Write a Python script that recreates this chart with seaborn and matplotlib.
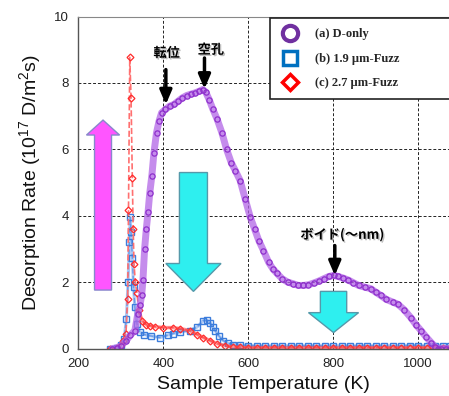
import numpy as np
import pandas as pd
import matplotlib
matplotlib.use("Agg")
import matplotlib.pyplot as plt
import matplotlib.patheffects as pe
from matplotlib.patches import FancyArrow
from matplotlib.lines import Line2D
import seaborn as sns

# values
d_temp = [280, 290, 300, 313, 322, 333, 340, 345, 349, 352,
          356, 360, 364, 368, 373, 378, 384, 390, 396, 405,
          415, 425, 435, 445, 455, 465, 475, 485, 493, 500,
          508, 517, 527, 538, 549, 560, 570, 581, 593, 605,
          615, 625, 636, 648, 658, 668, 680, 693, 706, 718,
          730, 742, 754, 766, 778, 790, 801, 812, 824, 836,
          848, 860, 874, 889, 900, 912, 925, 940, 953, 967,
          983, 995, 1007, 1019, 1031, 1040, 1047, 1055, 1065, 1075]
d_rate = [0.0, 0.02, 0.08, 0.24, 0.4, 0.54, 1.05, 1.3, 1.6, 2.05,
          3.0, 3.6, 4.1, 4.67, 5.2, 5.9, 6.5, 6.85, 7.1, 7.2,
          7.3, 7.35, 7.45, 7.55, 7.62, 7.66, 7.7, 7.75, 7.8, 7.72,
          7.5, 7.2, 6.9, 6.5, 6.0, 5.6, 5.35, 5.06, 4.5, 3.95,
          3.6, 3.25, 2.95, 2.6, 2.4, 2.26, 2.1, 2.0, 1.95, 1.9,
          1.9, 1.92, 1.97, 2.03, 2.1, 2.17, 2.2, 2.17, 2.12, 2.06,
          1.98, 1.9, 1.85, 1.8, 1.7, 1.6, 1.48, 1.4, 1.33, 1.17,
          0.93, 0.72, 0.54, 0.35, 0.18, 0.06, 0.0, 0.0, 0.0, 0.0]

b_temp = [275, 290, 300, 308, 313, 317, 320, 322, 324, 327,
          330, 333, 338, 344, 355, 370, 392, 410, 423, 440,
          463, 480, 494, 503, 510, 516, 522, 531, 541, 552,
          565, 580, 600, 620, 640, 660, 680, 700, 720, 740,
          760, 780, 800, 820, 840, 860, 880, 900, 920, 940,
          960, 980, 1000, 1020, 1040, 1060, 1075]
b_rate = [0.0, 0.02, 0.1, 0.3, 0.9, 2.0, 3.2, 3.95, 3.5, 2.74,
          1.84, 1.24, 0.75, 0.5, 0.42, 0.38, 0.33, 0.4, 0.45, 0.5,
          0.54, 0.65, 0.84, 0.85, 0.78, 0.65, 0.54, 0.38, 0.24, 0.16,
          0.12, 0.1, 0.09, 0.08, 0.08, 0.08, 0.08, 0.08, 0.08, 0.08,
          0.08, 0.08, 0.08, 0.08, 0.08, 0.08, 0.08, 0.08, 0.08, 0.08,
          0.08, 0.09, 0.09, 0.08, 0.08, 0.08, 0.07]

r_temp = [275, 290, 300, 304, 312, 316, 318, 321, 324, 327,
          329, 331, 334, 338, 342, 350, 360, 368, 380, 400,
          423, 440, 463, 480, 494, 510, 526, 545, 565, 580,
          600, 620, 640, 660, 680, 700, 720, 740, 760, 780,
          800, 820, 840, 860, 880, 900, 920, 940, 960, 980,
          1000, 1020, 1040, 1060, 1075]
r_rate = [0.0, 0.02, 0.1, 0.24, 0.45, 1.5, 4.16, 8.77, 7.56, 5.15,
          3.6, 2.56, 2.0, 1.66, 1.15, 0.84, 0.72, 0.69, 0.66, 0.63,
          0.63, 0.6, 0.54, 0.42, 0.33, 0.24, 0.15, 0.09, 0.05, 0.04,
          0.03, 0.03, 0.03, 0.03, 0.03, 0.03, 0.03, 0.03, 0.03, 0.03,
          0.03, 0.03, 0.03, 0.03, 0.03, 0.03, 0.03, 0.03, 0.03, 0.03,
          0.03, 0.03, 0.03, 0.03, 0.03]

x_ticks = [200, 400, 600, 800, 1000]
y_ticks = [0, 2, 4, 6, 8, 10]
labels = ["(a) D-only", "(b) 1.9 \u00b5m-Fuzz", "(c) 2.7 \u00b5m-Fuzz"]

sns.set_theme(style="white")
plt.rcParams["font.family"] = ["Liberation Sans", "DejaVu Sans"]
plt.rcParams["mathtext.fontset"] = "custom"
plt.rcParams["mathtext.rm"] = "Liberation Sans"
plt.rcParams["mathtext.it"] = "Liberation Sans"

purple = "#9C3FD6"
blue = "#3C7DDC"
red = "#FF2A2A"

fig = plt.figure(figsize=(4.49, 3.96), dpi=100)
ax = fig.add_axes([78.4 / 449, (396 - 348.5) / 396, (449 - 78.4) / 449, (348.5 - 16.5) / 396])

blue_df = pd.DataFrame({"T": b_temp, "R": b_rate})
red_df = pd.DataFrame({"T": r_temp, "R": r_rate})
d_df = pd.DataFrame({"T": d_temp, "R": d_rate})

sns.lineplot(data=blue_df, x="T", y="R", ax=ax, color="#7AA6EC", lw=2.2, alpha=0.6, errorbar=None)
sns.lineplot(data=blue_df, x="T", y="R", ax=ax, color="#6A9BE8", lw=1.0, linestyle="--",
             marker="s", markersize=4.5, markerfacecolor="none", markeredgecolor=blue,
             markeredgewidth=1.0, errorbar=None)
sns.lineplot(data=red_df, x="T", y="R", ax=ax, color="#FF7070", lw=1.2, linestyle="--",
             marker="D", markersize=3.5, markerfacecolor="none", markeredgecolor=red,
             markeredgewidth=0.9, errorbar=None)
sns.lineplot(data=red_df[red_df["T"] > 340], x="T", y="R", ax=ax, color="#FF4040", lw=2.5,
             alpha=0.55, errorbar=None)
sns.lineplot(data=d_df, x="T", y="R", ax=ax, color="#B266E6", lw=5.0, alpha=0.75, errorbar=None)
sns.lineplot(data=d_df, x="T", y="R", ax=ax, color=purple, lw=0, marker="o", markersize=3.8,
             markerfacecolor="none", markeredgecolor="#8E2FCC", markeredgewidth=0.9, errorbar=None)

# big block arrows
ax.add_patch(FancyArrow(258, 1.76, 0, 5.12, width=40, head_width=78, head_length=0.45,
                        length_includes_head=True, fc="#FF55FF", ec="#8888CC", lw=1, zorder=5))
ax.add_patch(FancyArrow(471, 5.3, 0, -3.58, width=66, head_width=130, head_length=0.84,
                        length_includes_head=True, fc="#2EEFEF", ec="#5599AA", lw=1, zorder=5))
ax.add_patch(FancyArrow(801, 1.72, 0, -1.24, width=62, head_width=118, head_length=0.6,
                        length_includes_head=True, fc="#2EEFEF", ec="#5599AA", lw=1, zorder=5))

# black arrows with japanese notes
jp = ["Noto Sans CJK JP", "DejaVu Sans"]
shadow = [pe.withSimplePatchShadow(offset=(1, -1), shadow_rgbFace="gray", alpha=0.5)]
notes = [("転位", 408, 8.9, 406, 8.4, 7.35),
         ("空孔", 512, 9.0, 497, 8.75, 7.82),
         ("ボイド(～nm)", 822, 3.43, 804, 3.1, 2.2)]
for txt, tx, ty, ax_x, y0, y1 in notes:
    ax.text(tx, ty, txt, ha="center", va="center", fontsize=9.5, fontweight="bold",
            family=jp, color="black", path_effects=shadow, zorder=6)
    ax.annotate("", xy=(ax_x, y1), xytext=(ax_x, y0),
                arrowprops=dict(arrowstyle="-|>,head_length=0.7,head_width=0.3",
                                color="black", lw=2.5, shrinkA=0, shrinkB=0), zorder=6)

ax.set_xlim(200, 1073)
ax.set_ylim(0, 10)
ax.set_xticks(x_ticks)
ax.set_yticks(y_ticks)
ax.set_xlabel("")
ax.tick_params(length=0, pad=7, labelsize=9.5, colors="#222222")
ax.grid(True, linestyle=(0, (3, 2)), color="#222222", lw=0.7)
for s in ["left", "bottom"]:
    ax.spines[s].set_color("#555555")
    ax.spines[s].set_linewidth(1.0)
ax.spines["top"].set_color("#888888")
ax.spines["top"].set_linewidth(0.8)
ax.spines["right"].set_visible(False)

ax.set_xlabel("Sample Temperature (K)", fontsize=14, labelpad=4, color="#111111")
ax.set_ylabel("Desorption Rate (10$^{17}$ D/m$^2$s)", fontsize=14, labelpad=8, color="#111111")

handles = [
    Line2D([], [], ls="none", marker="o", markersize=11, markerfacecolor="white",
           markeredgecolor="#7030A0", markeredgewidth=3),
    Line2D([], [], ls="none", marker="s", markersize=10, markerfacecolor="white",
           markeredgecolor="#0070C0", markeredgewidth=2.5),
    Line2D([], [], ls="none", marker="D", markersize=8.5, markerfacecolor="white",
           markeredgecolor="#FF0000", markeredgewidth=2.5),
]
leg = ax.legend(handles, labels, loc="upper left", bbox_to_anchor=(0.517, 0.994, 0.6, 0),
                mode="expand", prop=dict(family="Liberation Serif", weight="bold", size=9),
                frameon=True, fancybox=False, edgecolor="#222222", framealpha=1,
                borderpad=0.8, labelspacing=1.0, handlelength=1.6, handletextpad=1.2,
                borderaxespad=0)
leg.get_frame().set_linewidth(1.2)
leg.set_zorder(7)

fig.savefig("out.png", dpi=100)
